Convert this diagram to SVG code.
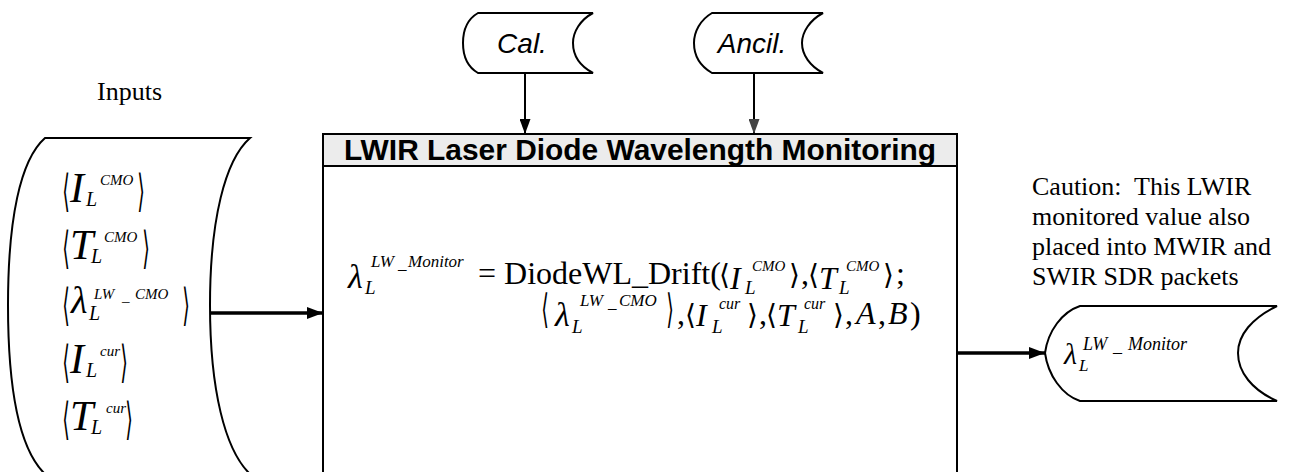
<svg xmlns="http://www.w3.org/2000/svg" width="1291" height="472" viewBox="0 0 1291 472">
<style>
.m{font-family:"Liberation Serif","Times New Roman",serif;font-style:italic;fill:#000}
.r{font-family:"Liberation Serif","Times New Roman",serif;fill:#000}
.u{font-style:normal}
.b{font-family:"DejaVu Serif","DejaVu Sans",serif;font-style:normal}
.br{font-family:"DejaVu Sans","DejaVu Serif",sans-serif;fill:#000}
.h{font-family:"Liberation Sans",Arial,sans-serif;font-weight:bold;fill:#000}
.a{font-family:"Liberation Sans",Arial,sans-serif;font-style:italic;fill:#000}
.shape{fill:#fff;stroke:#000;stroke-width:2}
.conn{fill:none;stroke:#000}
</style>
<defs>
<marker id="big" markerUnits="userSpaceOnUse" markerWidth="16" markerHeight="12" refX="16" refY="6" orient="auto"><path d="M0,0 L16,6 L0,12 Z" fill="#000"/></marker>
<marker id="sm" markerUnits="userSpaceOnUse" markerWidth="15" markerHeight="11" refX="15" refY="5.5" orient="auto"><path d="M0,0 L15,5.5 L0,11 Z" fill="#000"/></marker>
<marker id="smg" markerUnits="userSpaceOnUse" markerWidth="15" markerHeight="11" refX="15" refY="5.5" orient="auto"><path d="M0,0 L15,5.5 L0,11 Z" fill="#444"/></marker>
</defs>

<g id="connectors">
<line class="conn" x1="211" y1="313" x2="323" y2="313" stroke-width="3.5" marker-end="url(#big)"/>
<line class="conn" x1="957" y1="353" x2="1045" y2="353" stroke-width="3.5" marker-end="url(#big)"/>
<line class="conn" x1="525" y1="73" x2="525" y2="134" stroke-width="2" marker-end="url(#sm)"/>
<line class="conn" x1="754" y1="73" x2="754" y2="134" stroke-width="2" stroke="#444" marker-end="url(#smg)"/>
</g>

<g id="inputs-label"><text class="r" x="97" y="100" font-size="26">Inputs</text></g>

<g id="inputs">
<path class="shape" d="M45,138 L250,138 C225,160 210,220 210,305 C210,390 225,450 250,474 L45,474 C20,450 8,390 8,305 C8,220 20,160 45,138 Z"/>
<!-- row 1 -->
<text class="br" font-size="26" text-anchor="middle" transform="translate(66,192) scale(0.75,1.7)" y="8">⟨</text>
<text class="m"><tspan x="70" y="202" font-size="42">I</tspan><tspan x="86" y="206" font-size="20">L</tspan><tspan x="100" y="185" font-size="15">CMO</tspan></text>
<text class="br" font-size="26" text-anchor="middle" transform="translate(141,192) scale(0.75,1.7)" y="8">⟩</text>
<!-- row 2 -->
<text class="br" font-size="26" text-anchor="middle" transform="translate(66,249) scale(0.75,1.7)" y="8">⟨</text>
<text class="m"><tspan x="70" y="259" font-size="42">T</tspan><tspan x="91" y="263" font-size="20">L</tspan><tspan x="104" y="242" font-size="15">CMO</tspan></text>
<text class="br" font-size="26" text-anchor="middle" transform="translate(146,249) scale(0.75,1.7)" y="8">⟩</text>
<!-- row 3 -->
<text class="br" font-size="26" text-anchor="middle" transform="translate(66,306) scale(0.75,1.7)" y="8">⟨</text>
<text class="m"><tspan x="71" y="313" font-size="38">λ</tspan><tspan x="89" y="320" font-size="20">L</tspan><tspan x="94" y="299" font-size="15">LW</tspan><tspan x="122" y="301" font-size="15">_</tspan><tspan x="135" y="299" font-size="15">CMO</tspan></text>
<text class="br" font-size="26" text-anchor="middle" transform="translate(186,306) scale(0.75,1.7)" y="8">⟩</text>
<!-- row 4 -->
<text class="br" font-size="26" text-anchor="middle" transform="translate(66,363) scale(0.75,1.7)" y="8">⟨</text>
<text class="m"><tspan x="70" y="373" font-size="42">I</tspan><tspan x="86" y="377" font-size="20">L</tspan><tspan x="100" y="356" font-size="15">cur</tspan></text>
<text class="br" font-size="26" text-anchor="middle" transform="translate(124,363) scale(0.75,1.7)" y="8">⟩</text>
<!-- row 5 -->
<text class="br" font-size="26" text-anchor="middle" transform="translate(66,420) scale(0.75,1.7)" y="8">⟨</text>
<text class="m"><tspan x="70" y="430" font-size="42">T</tspan><tspan x="91" y="434" font-size="20">L</tspan><tspan x="106" y="413" font-size="15">cur</tspan></text>
<text class="br" font-size="26" text-anchor="middle" transform="translate(129,420) scale(0.75,1.7)" y="8">⟩</text>
</g>

<g id="cal">
<path class="shape" d="M478,13 L593,13 C580,20 573,32 573,43 C573,55 580,66 593,73 L478,73 C466,66 463,55 463,43 C463,32 466,20 478,13 Z"/>
<text class="a" x="522" y="53" font-size="28" text-anchor="middle">Cal.</text>
</g>

<g id="ancil">
<path class="shape" stroke="#444" d="M712,13 L823,13 C810,20 802,32 802,43 C802,55 810,66 823,73 L712,73 C700,66 694,55 694,43 C694,32 700,20 712,13 Z"/>
<text class="a" x="752" y="53" font-size="28" text-anchor="middle">Ancil.</text>
</g>

<g id="process">
<rect x="323" y="134" width="634" height="342" fill="#fff" stroke="#000" stroke-width="2"/>
<rect x="323" y="134" width="634" height="32" fill="#ececec" stroke="#000" stroke-width="2"/>
<text class="h" x="640" y="160" font-size="29" text-anchor="middle" textLength="592" lengthAdjust="spacingAndGlyphs">LWIR Laser Diode Wavelength Monitoring</text>
<!-- line 1 -->
<text class="m"><tspan x="348" y="288" font-size="34">λ</tspan><tspan x="365" y="294" font-size="19">L</tspan><tspan x="371" y="267" font-size="17">LW</tspan><tspan x="398" y="269" font-size="17">_</tspan><tspan x="408" y="267" font-size="17">Monitor</tspan><tspan class="u" x="478" y="284" font-size="32">= DiodeWL_Drift(</tspan><tspan class="b" x="719" y="284" font-size="28">⟨</tspan><tspan x="730" y="289" font-size="32">I</tspan><tspan x="745" y="294" font-size="19">L</tspan><tspan x="752" y="271" font-size="15">CMO</tspan><tspan class="b" x="789" y="284" font-size="28">⟩</tspan><tspan class="u" x="801" y="284" font-size="32">,</tspan><tspan class="b" x="808" y="284" font-size="28">⟨</tspan><tspan x="819" y="289" font-size="32">T</tspan><tspan x="839" y="294" font-size="19">L</tspan><tspan x="846" y="271" font-size="15">CMO</tspan><tspan class="b" x="883" y="284" font-size="28">⟩</tspan><tspan class="u" x="896" y="284" font-size="32">;</tspan></text>
<!-- line 2 -->
<text class="br" font-size="26" text-anchor="middle" transform="translate(545,311) scale(0.75,1.55)" y="8">⟨</text>
<text class="m"><tspan x="555" y="326" font-size="34">λ</tspan><tspan x="572" y="333" font-size="19">L</tspan><tspan x="580" y="306" font-size="17">LW</tspan><tspan x="608" y="308" font-size="17">_</tspan><tspan x="619" y="306" font-size="17">CMO</tspan></text>
<text class="br" font-size="26" text-anchor="middle" transform="translate(670,311) scale(0.75,1.55)" y="8">⟩</text>
<text class="m"><tspan class="u" x="677" y="324" font-size="32">,</tspan><tspan class="b" x="685" y="324" font-size="28">⟨</tspan><tspan x="696" y="326" font-size="32">I</tspan><tspan x="712" y="333" font-size="19">L</tspan><tspan x="719" y="309" font-size="16">cur</tspan><tspan class="b" x="747" y="324" font-size="28">⟩</tspan><tspan class="u" x="759" y="324" font-size="32">,</tspan><tspan class="b" x="766" y="324" font-size="28">⟨</tspan><tspan x="777" y="326" font-size="32">T</tspan><tspan x="798" y="333" font-size="19">L</tspan><tspan x="804" y="309" font-size="16">cur</tspan><tspan class="b" x="833" y="324" font-size="28">⟩</tspan><tspan class="u" x="845" y="324" font-size="32">,</tspan><tspan x="856" y="324" font-size="32">A</tspan><tspan class="u" x="878" y="324" font-size="32">,</tspan><tspan x="888" y="324" font-size="32">B</tspan><tspan class="u" x="910" y="324" font-size="32">)</tspan></text>
</g>

<g id="caution">
<text class="r" font-size="26"><tspan x="1032" y="195">Caution:&#160; This LWIR</tspan><tspan x="1032" y="225">monitored value also</tspan><tspan x="1032" y="255">placed into MWIR and</tspan><tspan x="1032" y="285">SWIR SDR packets</tspan></text>
</g>

<g id="output">
<path class="shape" d="M1080,306 L1277,306 C1252,318 1238,335 1238,353 C1238,372 1252,390 1277,401 L1080,401 C1062,395 1048,375 1045,353 C1048,331 1062,312 1080,306 Z"/>
<text class="m"><tspan x="1064" y="364" font-size="30">λ</tspan><tspan x="1079" y="371" font-size="17">L</tspan><tspan x="1083" y="350" font-size="18">LW</tspan><tspan x="1113" y="352" font-size="18">_</tspan><tspan x="1128" y="350" font-size="18">Monitor</tspan></text>
</g>
</svg>
